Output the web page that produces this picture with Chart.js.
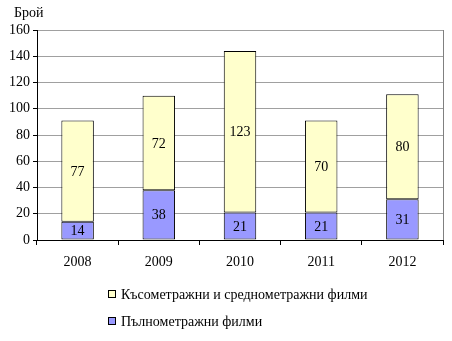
<!DOCTYPE html>
<html>
<head>
<meta charset="utf-8">
<script src="https://cdn.jsdelivr.net/npm/chart.js@4/dist/chart.umd.min.js"></script>
<style>
  html, body { margin: 0; padding: 0; background: #fff; }
  #wrap { position: relative; width: 452px; height: 341px; }
</style>
</head>
<body>
<div id="wrap"><canvas id="chart"></canvas></div>
<script>
// Data
const YEARS = ['2008', '2009', '2010', '2011', '2012'];
const FULL_LENGTH = [14, 38, 21, 21, 31];
const SHORT_MEDIUM = [77, 72, 123, 70, 80];
const LABEL_FULL = 'Пълнометражни филми';
const LABEL_SHORT = 'Късометражни и среднометражни филми';
const Y_TITLE = 'Брой';

const FONT = '"Liberation Serif", "Times New Roman", serif';

// segment labels, plot border, y title and legend
const extras = {
  id: 'extras',
  afterDatasetsDraw(chart) {
    const { ctx } = chart;
    ctx.save();
    ctx.font = '14px ' + FONT;
    ctx.fillStyle = '#000';
    ctx.textAlign = 'center';
    ctx.textBaseline = 'middle';
    chart.data.datasets.forEach((ds, i) => {
      chart.getDatasetMeta(i).data.forEach((bar, j) => {
        const p = bar.getProps(['x', 'y', 'base'], true);
        ctx.fillText(String(ds.data[j]), p.x, (p.y + p.base) / 2 + 1);
      });
    });
    ctx.restore();
  },
  afterDraw(chart) {
    const { ctx, chartArea: a } = chart;
    ctx.save();
    // right border of plot area
    ctx.strokeStyle = '#808080';
    ctx.lineWidth = 1;
    ctx.beginPath();
    ctx.moveTo(Math.round(a.right) + 0.5, a.top);
    ctx.lineTo(Math.round(a.right) + 0.5, a.bottom);
    ctx.stroke();

    ctx.font = '14px ' + FONT;
    ctx.fillStyle = '#000';
    ctx.textAlign = 'left';
    ctx.textBaseline = 'alphabetic';
    ctx.fillText(Y_TITLE, 14, 17);

    // legend (top series first)
    const items = chart.data.datasets.slice().reverse();
    items.forEach((ds, k) => {
      const y = 290 + k * 27;
      ctx.fillStyle = ds.backgroundColor;
      ctx.fillRect(108, y, 7, 7);
      ctx.strokeStyle = '#000';
      ctx.strokeRect(108.5, y + 0.5, 7, 7);
      ctx.fillStyle = '#000';
      ctx.fillText(ds.label, 121, y + 9);
    });
    ctx.restore();
  }
};

new Chart(document.getElementById('chart'), {
  type: 'bar',
  data: {
    labels: YEARS,
    datasets: [
      {
        label: LABEL_FULL,
        data: FULL_LENGTH,
        backgroundColor: '#9999FF',
        borderColor: '#000',
        borderWidth: 1,
        borderSkipped: false,
        barPercentage: 0.4,
        categoryPercentage: 1
      },
      {
        label: LABEL_SHORT,
        data: SHORT_MEDIUM,
        backgroundColor: '#FFFFCC',
        borderColor: '#000',
        borderWidth: 1,
        borderSkipped: false,
        barPercentage: 0.4,
        categoryPercentage: 1
      }
    ]
  },
  options: {
    responsive: true,
    maintainAspectRatio: false,
    animation: false,
    layout: { padding: { top: 30, right: 9, left: 0, bottom: 0 } },
    plugins: {
      legend: { display: false },
      tooltip: { enabled: false },
      title: { display: false }
    },
    scales: {
      x: {
        stacked: true,
        grid: { drawOnChartArea: false, offset: true, tickLength: 5, tickColor: '#000' },
        border: { color: '#000', width: 1 },
        ticks: { color: '#000', font: { family: FONT, size: 14 }, padding: 9 },
        afterFit(scale) { scale.height = 101; }
      },
      y: {
        stacked: true,
        min: 0,
        max: 160,
        ticks: { stepSize: 20, color: '#000', font: { family: FONT, size: 14 }, padding: 3 },
        grid: { color: '#a0a0a0', tickLength: 4, tickColor: '#000' },
        border: { color: '#000', width: 1 },
        afterFit(scale) { scale.width = 37; }
      }
    }
  },
  plugins: [extras]
});
</script>
</body>
</html>
